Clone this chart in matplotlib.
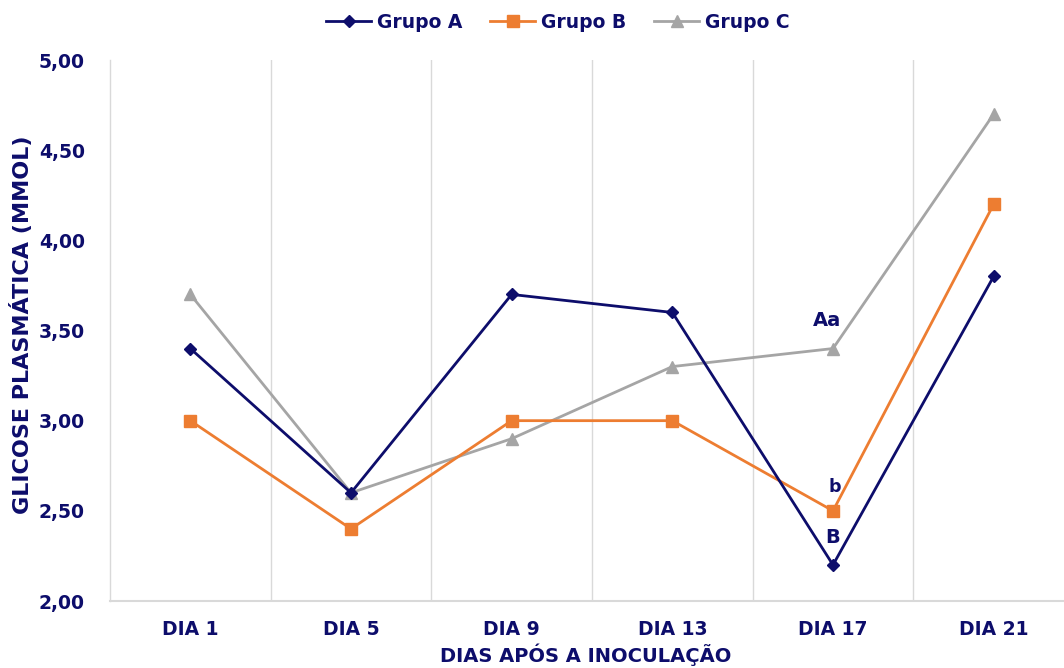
import matplotlib
matplotlib.use("Agg")
import matplotlib.pyplot as plt
from matplotlib.ticker import FuncFormatter

categories = ["DIA 1", "DIA 5", "DIA 9", "DIA 13", "DIA 17", "DIA 21"]
grupo_a = [3.40, 2.60, 3.70, 3.60, 2.20, 3.80]
grupo_b = [3.00, 2.40, 3.00, 3.00, 2.50, 4.20]
grupo_c = [3.70, 2.60, 2.90, 3.30, 3.40, 4.70]
y_ticks = [2.0, 2.5, 3.0, 3.5, 4.0, 4.5, 5.0]

navy = "#0D0D6B"
orange = "#ED7D31"
gray = "#A5A5A5"
grid = "#D9D9D9"

plt.rcParams['font.family'] = ['DejaVu Sans']
fig = plt.figure(figsize=(10.64, 6.68), dpi=100)
ax = fig.add_axes([110/1064, 67/668, 964/1064, 541/668])

x = list(range(len(categories)))
ax.plot(x, grupo_a, color=navy, lw=2.0, marker="D", ms=6.5, label="Grupo A", zorder=5)
ax.plot(x, grupo_b, color=orange, lw=2.0, marker="s", ms=8, label="Grupo B", zorder=4)
ax.plot(x, grupo_c, color=gray, lw=2.0, marker="^", ms=9, label="Grupo C", zorder=3)

ax.set_xlim(-0.5, len(categories) - 0.5)
ax.set_ylim(2.0, 5.0)
ax.set_yticks(y_ticks)
ax.yaxis.set_major_formatter(FuncFormatter(lambda v, p: f"{v:.2f}".replace(".", ",")))
ax.set_xticks(x)
ax.set_xticklabels(categories)
ax.set_xticks([i + 0.5 for i in x[:-1]], minor=True)
ax.grid(False)
ax.xaxis.grid(True, which="minor", color=grid, lw=1.0)
ax.tick_params(axis="both", which="both", length=0)
ax.tick_params(axis="y", pad=18, labelsize=13.5, labelcolor=navy)
ax.tick_params(axis="x", pad=14, labelsize=13.5, labelcolor=navy)
for lab in ax.get_xticklabels() + ax.get_yticklabels():
    lab.set_fontweight("bold")

for side in ["top", "right"]:
    ax.spines[side].set_visible(False)
ax.spines["left"].set_color(grid)
ax.spines["bottom"].set_color(grid)
ax.spines["left"].set_linewidth(1.0)
ax.spines["bottom"].set_linewidth(1.5)

ax.set_ylabel("GLICOSE PLASMÁTICA (MMOL)", color=navy, fontsize=16, fontweight="bold", va="center")
ax.yaxis.set_label_coords(-0.0913, 0.51)
ax.set_xlabel("DIAS APÓS A INOCULAÇÃO", color=navy, fontsize=14, fontweight="bold", va="center")
ax.xaxis.set_label_coords(0.493, -0.1)

ax.annotate("Aa", (4, grupo_c[4]), xytext=(-4, 20), textcoords="offset points",
            ha="center", va="center", color=navy, fontsize=14, fontweight="bold")
ax.annotate("b", (4, grupo_b[4]), xytext=(1, 17), textcoords="offset points",
            ha="center", va="center", color=navy, fontsize=12.5, fontweight="bold")
ax.annotate("B", (4, grupo_a[4]), xytext=(0, 20), textcoords="offset points",
            ha="center", va="center", color=navy, fontsize=14, fontweight="bold")

leg = fig.legend(loc="center", bbox_to_anchor=(558/1064, 1 - 22/668), ncol=3, frameon=False,
                 fontsize=13.5, handlelength=2.4, columnspacing=1.5, handletextpad=0.3)
for t in leg.get_texts():
    t.set_color(navy)
    t.set_fontweight("bold")

fig.savefig("out.png", dpi=100)
